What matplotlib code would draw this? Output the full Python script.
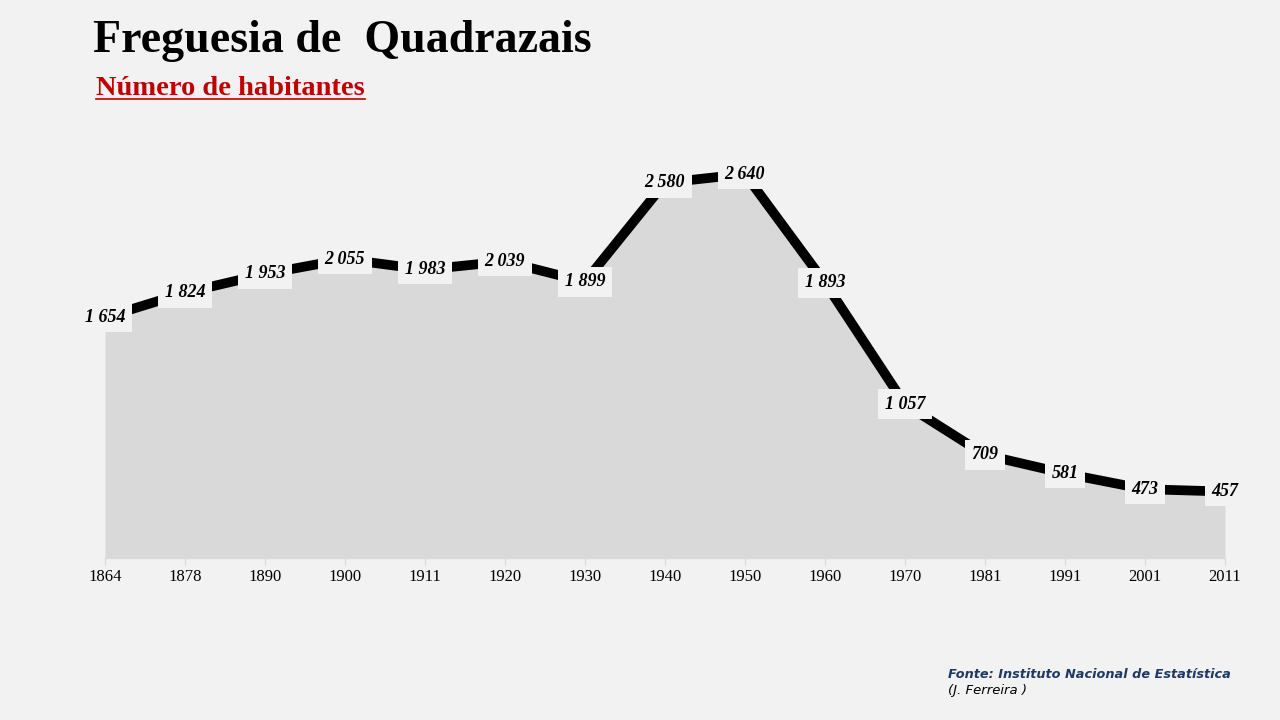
import numpy as np
import matplotlib.pyplot as plt
from matplotlib.lines import Line2D

plt.rcParams.update({'font.family': ['Liberation Serif', 'DejaVu Serif']})

# Data
anos = ['1864', '1878', '1890', '1900', '1911', '1920', '1930', '1940',
        '1950', '1960', '1970', '1981', '1991', '2001', '2011']
habitantes = [1654, 1824, 1953, 2055, 1983, 2039, 1899, 2580,
              2640, 1893, 1057, 709, 581, 473, 457]

bg = '#f2f2f2'
fig = plt.figure(figsize=(12.8, 7.2), dpi=100, facecolor=bg)
ax = fig.add_axes([0.082, 0.225, 0.875, 0.606])
ax.set_facecolor(bg)

x = np.arange(len(anos))
ax.fill_between(x, habitantes, color='#d9d9d9', lw=0)
ax.plot(x, habitantes, color='black', lw=7, solid_joinstyle='miter')

def fmt(v):
    return f'{v:,}'.replace(',', ' ')

for xi, v in zip(x, habitantes):
    ax.text(xi, v, fmt(v), ha='center', va='center', fontsize=13,
            fontweight='bold', style='italic',
            bbox=dict(boxstyle='square,pad=0.35', fc=bg, ec='none'))

ax.set_xlim(0, len(anos) - 1)
ax.set_ylim(0, 3000)
ax.set_xticks(x)
ax.set_xticklabels(anos, fontsize=12)
ax.set_yticks([])
for s in ['top', 'right', 'left']:
    ax.spines[s].set_visible(False)
ax.spines['bottom'].set_color('#d9d9d9')
ax.spines['bottom'].set_linewidth(1)
ax.tick_params(axis='x', length=5, color='#d9d9d9', pad=3)

# Titles
fig.text(0.073, 0.928, 'Freguesia de  Quadrazais', fontsize=33,
         fontweight='bold', va='baseline')
sub = fig.text(0.075, 0.868, 'Número de habitantes', fontsize=20.5,
               fontweight='bold', color='#c00000', va='baseline')
fig.canvas.draw()
bb = sub.get_window_extent().transformed(fig.transFigure.inverted())
fig.add_artist(Line2D([bb.x0, bb.x1], [0.862, 0.862], color='#c00000', lw=1.2))

# Footer
fig.text(0.741, 0.058, 'Fonte: Instituto Nacional de Estatística', fontsize=9.3,
         fontweight='bold', style='italic', color='#1f3864',
         family=['DejaVu Sans'])
fig.text(0.741, 0.036, '(J. Ferreira )', fontsize=9.5, style='italic',
         color='black', family=['DejaVu Sans'])

fig.savefig('out.png', dpi=100, facecolor=bg)
